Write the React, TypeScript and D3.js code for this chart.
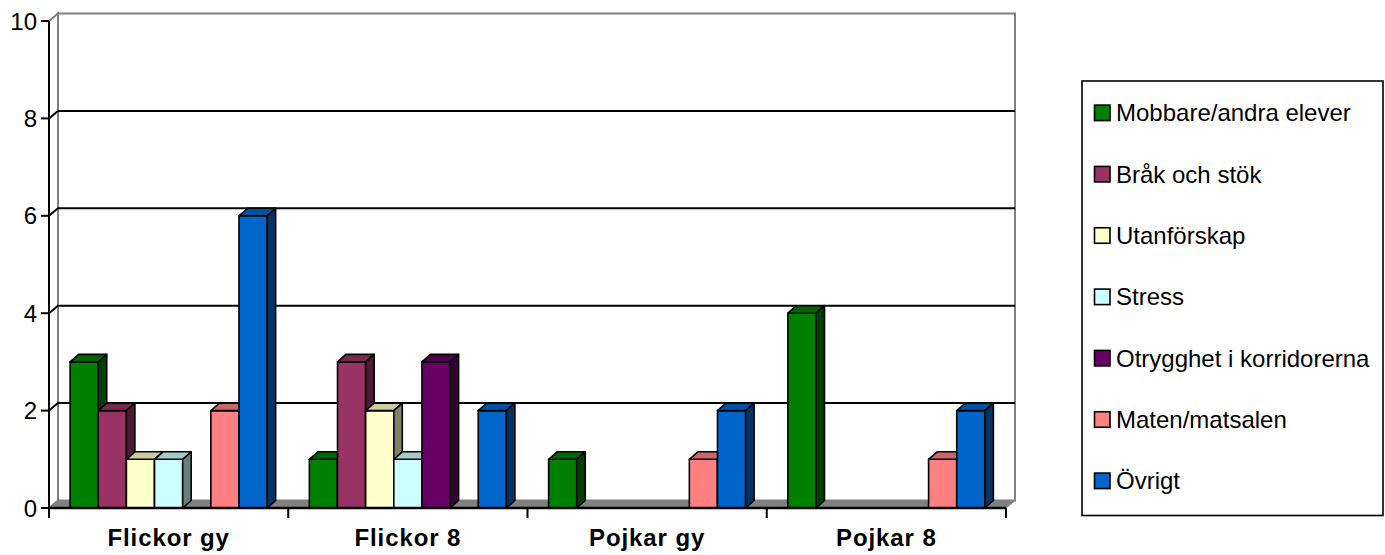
import { type FC } from 'react';
import * as d3 from 'd3';

const categories = ['Flickor gy', 'Flickor 8', 'Pojkar gy', 'Pojkar 8'];
const seriesNames = [
  'Mobbare/andra elever',
  'Bråk och stök',
  'Utanförskap',
  'Stress',
  'Otrygghet i korridorerna',
  'Maten/matsalen',
  'Övrigt',
];
const seriesColors = ['#008000', '#993366', '#FFFFCC', '#CCFFFF', '#660066', '#FF8080', '#0066CC'];

const mobbare = [3, 1, 1, 4];
const brakOchStok = [2, 3, 0, 0];
const utanforskap = [1, 2, 0, 0];
const stress = [1, 1, 0, 0];
const otrygghet = [0, 3, 0, 0];
const maten = [2, 0, 1, 1];
const ovrigt = [6, 2, 2, 2];
const seriesValues = [mobbare, brakOchStok, utanforskap, stress, otrygghet, maten, ovrigt];

const yTicks = [0, 2, 4, 6, 8, 10];

const W = 1385;
const H = 555;
const FONT = '"Liberation Sans", Arial, sans-serif';
// depth offset of the 3d box
const DX = 9;
const DY = -7.5;
const BAR_DX = 8.5;
const BAR_DY = -7.5;

const shade = (c: string, k: number) => {
  const rgb = d3.rgb(c);
  return d3.rgb(rgb.r * k, rgb.g * k, rgb.b * k).formatHex();
};

const App: FC = () => {
  const y = d3.scaleLinear().domain([0, 10]).range([508, 21]);
  const x = d3.scaleBand<string>().domain(categories).range([49, 1006]).paddingInner(0).paddingOuter(0);
  const xInner = d3
    .scaleBand<string>()
    .domain(seriesNames)
    .range([0, x.bandwidth()])
    .paddingInner(0)
    .paddingOuter(0.75);

  const [x0, x1] = x.range();
  const y0 = y(0);
  const yTop = y(10);
  const bw = xInner.bandwidth();

  const bars: { key: string; bx: number; top: number; color: string }[] = [];
  categories.forEach((cat, ci) => {
    seriesNames.forEach((s, si) => {
      const v = seriesValues[si][ci];
      if (!v) return;
      bars.push({
        key: `${cat}-${s}`,
        bx: (x(cat) ?? 0) + (xInner(s) ?? 0),
        top: y(v),
        color: seriesColors[si],
      });
    });
  });

  const legendTop = 112.6;
  const legendStep = 61.33;

  return (
    <svg
      width={W}
      height={H}
      style={{ position: 'absolute', left: 0, top: 0, background: '#fff' }}
      fontFamily={FONT}
    >
      {/* back wall */}
      <rect
        x={x0 + DX}
        y={yTop + DY}
        width={x1 - x0}
        height={y0 - yTop}
        fill="#fff"
        stroke="#808080"
        strokeWidth={2}
      />
      {/* left side wall */}
      <polygon
        points={`${x0},${yTop} ${x0 + DX},${yTop + DY} ${x0 + DX},${y0 + DY} ${x0},${y0}`}
        fill="#fff"
        stroke="#808080"
        strokeWidth={2}
      />
      {/* gridlines */}
      {yTicks
        .filter((t) => t > 0 && t < 10)
        .map((t) => (
          <polyline
            key={`g${t}`}
            points={`${x0},${y(t)} ${x0 + DX},${y(t) + DY} ${x1 + DX},${y(t) + DY}`}
            fill="none"
            stroke="#000"
            strokeWidth={2}
          />
        ))}
      {/* floor */}
      <polygon
        points={`${x0},${y0} ${x0 + DX},${y0 + DY} ${x1 + DX},${y0 + DY} ${x1},${y0}`}
        fill="#808080"
        stroke="#808080"
        strokeWidth={1}
      />
      {/* bars */}
      {bars.map((b) => (
        <g key={b.key} stroke="#000" strokeWidth={1.6} strokeLinejoin="round">
          <rect x={b.bx} y={b.top} width={bw} height={y0 - b.top} fill={b.color} />
          <polygon
            points={`${b.bx},${b.top} ${b.bx + BAR_DX},${b.top + BAR_DY} ${b.bx + bw + BAR_DX},${b.top + BAR_DY} ${b.bx + bw},${b.top}`}
            fill={shade(b.color, 0.8)}
          />
          <polygon
            points={`${b.bx + bw},${b.top} ${b.bx + bw + BAR_DX},${b.top + BAR_DY} ${b.bx + bw + BAR_DX},${y0 + BAR_DY} ${b.bx + bw},${y0}`}
            fill={shade(b.color, 0.5)}
          />
        </g>
      ))}
      {/* value axis */}
      <line x1={x0} x2={x0} y1={yTop} y2={y0} stroke="#000" strokeWidth={2} />
      {yTicks.map((t) => (
        <g key={`t${t}`}>
          <line x1={x0 - 8} x2={x0} y1={y(t)} y2={y(t)} stroke="#000" strokeWidth={2} />
          <text x={37} y={y(t) + 8.6} textAnchor="end" fontSize={24} fill="#000">
            {t}
          </text>
        </g>
      ))}
      {/* category axis */}
      <line x1={x0} x2={x1} y1={y0} y2={y0} stroke="#000" strokeWidth={2.5} />
      {[...categories.map((c) => x(c) ?? 0), x1].map((p, i) => (
        <line key={`c${i}`} x1={p} x2={p} y1={y0} y2={y0 + 10} stroke="#000" strokeWidth={2} />
      ))}
      {categories.map((c) => (
        <text
          key={c}
          x={(x(c) ?? 0) + x.bandwidth() / 2}
          y={546}
          textAnchor="middle"
          fontSize={24}
          fontWeight="bold"
          letterSpacing={0.9}
          fill="#000"
        >
          {c}
        </text>
      ))}
      {/* legend */}
      <rect x={1082} y={81} width={301} height={434.5} fill="#fff" stroke="#000" strokeWidth={1.6} />
      {seriesNames.map((s, i) => {
        const cy = legendTop + i * legendStep;
        return (
          <g key={s}>
            <rect
              x={1094.5}
              y={cy - 7.5}
              width={15.5}
              height={15.5}
              fill={seriesColors[i]}
              stroke="#000"
              strokeWidth={1.6}
            />
            <text x={1116} y={cy + 8.6} fontSize={24} fill="#000">
              {s}
            </text>
          </g>
        );
      })}
    </svg>
  );
};

export default App;
